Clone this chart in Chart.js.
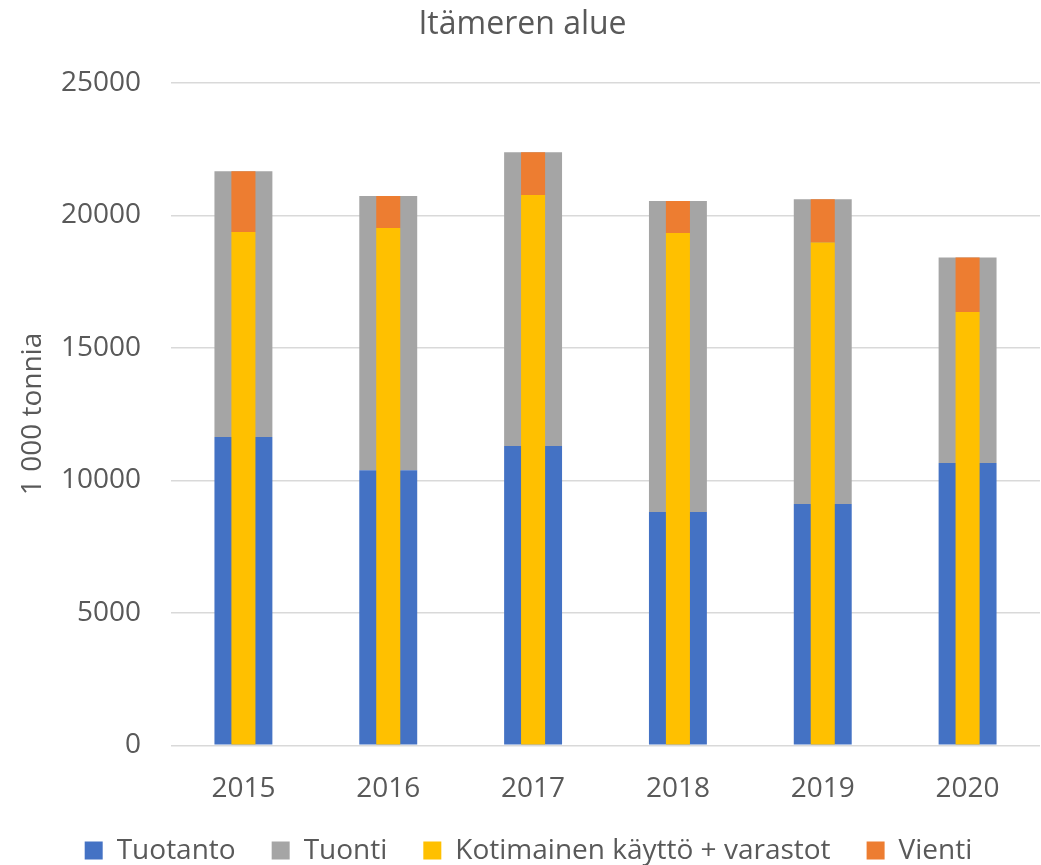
<!DOCTYPE html>
<html lang="fi">
<head>
<meta charset="utf-8">
<title>Itämeren alue</title>
<script src="https://cdn.jsdelivr.net/npm/chart.js@4/dist/chart.umd.min.js"></script>
<style>
  html, body { margin: 0; padding: 0; background: #ffffff; }
  #wrap { width: 1041px; height: 865px; }
</style>
</head>
<body>
<div id="wrap"><canvas id="chart" width="1041" height="865"></canvas></div>
<script>
// Vuodet
const years = ['2015', '2016', '2017', '2018', '2019', '2020'];

// Tarjonta (leveä pylväs), 1 000 tonnia
const tuotanto = [11630, 10380, 11290, 8800, 9100, 10650];
const tuonti   = [10030, 10340, 11090, 11740, 11500, 7750];

// Käyttö (kapea pylväs), 1 000 tonnia
const kotimainen = [19370, 19520, 20760, 19330, 18970, 16350];
const vienti     = [2290, 1200, 1620, 1210, 1630, 2050];

// Y-akselin asteikko
const yTicks = [0, 5000, 10000, 15000, 20000, 25000];

const textColor = '#595959';
const fontFamily = '"Open Sans", "Noto Sans", "Liberation Sans", sans-serif';

// Leveä pino (tarjonta) piirretään ensin, kapea pino (käyttö) sen päälle
const wide = { stack: 'tarjonta', grouped: false, categoryPercentage: 1.0, barPercentage: 0.40, order: 1 };
const narrow = { stack: 'kaytto', grouped: false, categoryPercentage: 1.0, barPercentage: 0.166, order: 0 };

// Siirtää selitettä hieman oikealle, jotta se asettuu kuvion keskelle
const legendNudge = {
  id: 'legendNudge',
  afterLayout(chart) {
    const lg = chart.legend;
    if (lg) { lg.left += 6; lg.right += 6; }
  }
};

new Chart(document.getElementById('chart'), {
  type: 'bar',
  data: {
    labels: years,
    datasets: [
      Object.assign({ label: 'Tuotanto', data: tuotanto, backgroundColor: '#4472C4' }, wide),
      Object.assign({ label: 'Tuonti', data: tuonti, backgroundColor: '#A5A5A5' }, wide),
      Object.assign({ label: 'Kotimainen käyttö + varastot', data: kotimainen, backgroundColor: '#FFC000' }, narrow),
      Object.assign({ label: 'Vienti', data: vienti, backgroundColor: '#ED7D31' }, narrow)
    ]
  },
  plugins: [legendNudge],
  options: {
    responsive: false,
    animation: false,
    layout: { padding: { left: 5, right: 1, top: 0, bottom: -9.6 } },
    scales: {
      x: {
        type: 'category',
        grid: { display: false },
        border: { display: false },
        ticks: { color: textColor, font: { family: fontFamily, size: 28 }, padding: 19 },
        afterFit: (s) => { s.height = 55.4; }
      },
      y: {
        stacked: true,
        min: yTicks[0],
        max: yTicks[yTicks.length - 1],
        afterBuildTicks: (s) => { s.ticks = yTicks.map(v => ({ value: v })); },
        grid: { color: '#D9D9D9', lineWidth: 1.4, drawTicks: false },
        border: { display: false },
        ticks: {
          color: textColor,
          font: { family: fontFamily, size: 28 },
          padding: 30,
          callback: (v) => String(v)
        },
        title: {
          display: true,
          text: '1 000 tonnia',
          color: textColor,
          font: { family: fontFamily, size: 28 },
          padding: { top: 11, bottom: 0 }
        },
        afterFit: (s) => { s.width = 166; }
      }
    },
    plugins: {
      title: {
        display: true,
        text: 'Itämeren alue',
        color: textColor,
        font: { family: fontFamily, size: 32, weight: 'normal' },
        padding: { top: 5.6, bottom: 38.7 }
      },
      legend: {
        position: 'bottom',
        labels: {
          color: textColor,
          font: { family: fontFamily, size: 28 },
          boxWidth: 18,
          boxHeight: 18,
          padding: 36,
          sort: (a, b) => a.datasetIndex - b.datasetIndex
        }
      },
      tooltip: { enabled: false }
    }
  }
});
</script>
</body>
</html>
